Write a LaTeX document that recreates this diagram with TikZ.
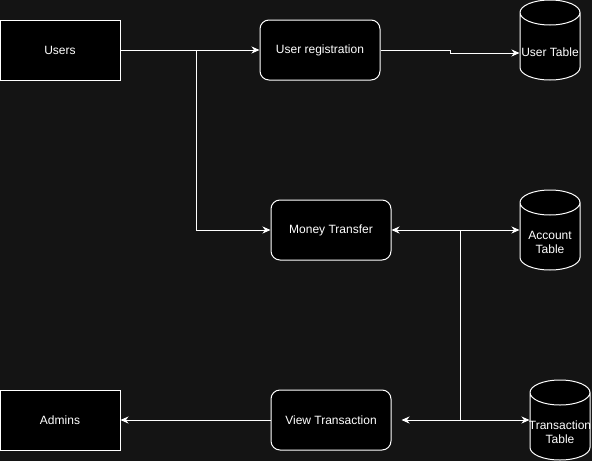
\documentclass[tikz,border=0pt]{standalone}
\usepackage{fontspec}
\setmainfont{Liberation Sans}
\usetikzlibrary{shapes.geometric, arrows.meta}
\definecolor{canvas}{HTML}{141414}
\tikzstyle{entity} = [rectangle, minimum width=120pt, minimum height=60pt, text centered, draw=white, fill=black, text=white, line width=1pt]
\tikzstyle{process} = [rectangle, rounded corners=9pt, minimum width=120pt, minimum height=60pt, text centered, draw=white, fill=black, text=white, line width=1pt]
\tikzstyle{table} = [cylinder, shape border rotate=90, aspect=0.5, minimum width=60pt, minimum height=80pt, inner sep=0pt, draw=white, fill=black, text=white, line width=1pt]
\tikzstyle{arrow} = [white, line width=1pt, ->, >={Stealth[length=8pt, width=7pt, inset=2.5pt]}]
\tikzstyle{arrow3} = [white, line width=1pt, <->, >={Stealth[length=8pt, width=7pt, inset=2.5pt]}]
\tikzstyle{link} = [white, line width=1pt]
% label of a table sits in the body, below the lid
\newcommand{\tbltext}[1]{\raisebox{0pt}[\dimexpr\height+14pt\relax][\depth]{\makebox[50pt]{\begin{tabular}{@{}c@{}}#1\end{tabular}}}}

\begin{document}
\begin{tikzpicture}[node distance=180pt, font=\fontsize{12pt}{14pt}\selectfont]
\fill [canvas] (0pt,0pt) rectangle (592pt,-461pt);
\useasboundingbox (0pt,0pt) rectangle (592pt,-461pt);

\node (users) [entity] at (60pt,-50pt) {Users};
\node (reg) [process, right of=users, xshift=80pt] {User registration};
\node (usertbl) [table, right of=reg, xshift=50pt, yshift=3.5pt] {\tbltext{User Table}};
\node (money) [process, below of=reg, xshift=11pt] {Money Transfer};
\node (accttbl) [table, right of=money, xshift=39pt, yshift=-6.5pt] {\tbltext{Account\\Table}};
\node (view) [process, below of=money, yshift=-10pt] {View Transaction};
\node (admins) [entity, left of=view, xshift=-91pt] {Admins};
\node (transtbl) [table, right of=view, xshift=49pt, yshift=-6.5pt] {\tbltext{Transaction\\Table}};

\coordinate (split) at (196pt,-50pt);
\coordinate (tap) at (460pt,-230pt);

\draw [arrow] (users) -- (reg);
\draw [arrow] (split) |- (money.west);
\draw [arrow] (reg.east) -| ++(70pt,-3pt) -- ([yshift=-6.5pt]usertbl.west);
\draw [arrow3] (money.east) -- (money.east -| accttbl.west);
\draw [link] (tap) -- (tap |- view);
\draw [arrow3] ([xshift=10pt]view.east) -- (view.east -| transtbl.west);
\draw [arrow] (view) -- (admins);
\end{tikzpicture}
\end{document}
